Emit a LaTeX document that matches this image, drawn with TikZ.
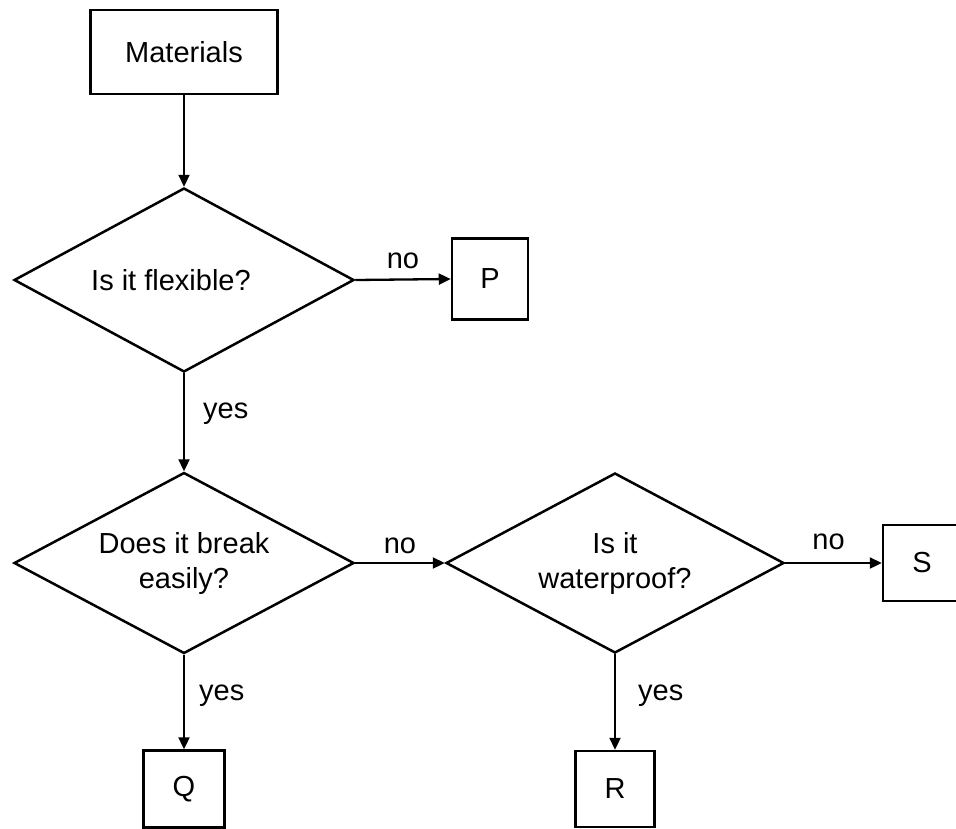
\documentclass[tikz,border=0pt]{standalone}
\usepackage{fontspec}
\setmainfont{Liberation Sans}
\usetikzlibrary{shapes.geometric,arrows.meta}
\begin{document}
\begin{tikzpicture}[x=1pt,y=-1pt,
  every node/.style={font=\fontsize{29}{35}\selectfont, inner sep=0pt},
  box/.style={draw, line width=2.5pt, rectangle},
  decision/.style={draw, line width=2.5pt, diamond, shape aspect=1.88, align=center},
  conn/.style={line width=2.3pt, -{Triangle[length=12pt,width=11pt]}},
  lbl/.style={font=\fontsize{29}{35}\selectfont}
]
\useasboundingbox (0,0) rectangle (956,828);

\node[box, minimum width=187pt, minimum height=84pt] (mat) at (184,52) {Materials};
\node[decision, minimum width=340pt, minimum height=184pt] (d1) at (184,280) {Is it flexible?\hspace*{26pt}};
\node[box, minimum width=76pt, minimum height=81pt] (p) at (490,279) {P};
\node[decision, minimum width=340pt, minimum height=181pt] (d2) at (184,563) {Does it break\\easily?};
\node[decision, minimum width=338pt, minimum height=180pt] (d3) at (615,563) {Is it\\waterproof?};
\node[box, minimum width=78pt, minimum height=76pt] (s) at (922,563) {S};
\node[box, minimum width=81pt, minimum height=77pt] (q) at (184,789) {Q};
\node[box, minimum width=79pt, minimum height=76pt] (r) at (615,789) {R};

\draw[conn] (mat) -- (d1);
\draw[conn] (d1.east) -- node[midway, above=10pt, lbl] (n1) {no} (p.west);
\draw[conn] (d1.south) -- node[midway, right=18pt, yshift=9pt, lbl] (y1) {yes} (d2.north);
\draw[conn] (d2.east) -- node[midway, above=8pt, lbl] (n2) {no} (d3.west);
\draw[conn] (d3.east) -- node[midway, above=12pt, xshift=-5pt, lbl] (n3) {no} (s.west);
\draw[conn] (d2.south) -- node[midway, right=14pt, yshift=6pt, lbl] (y2) {yes} (q.north);
\draw[conn] (d3.south) -- node[midway, right=22pt, yshift=6pt, lbl] (y3) {yes} (r.north);
\end{tikzpicture}
\end{document}
